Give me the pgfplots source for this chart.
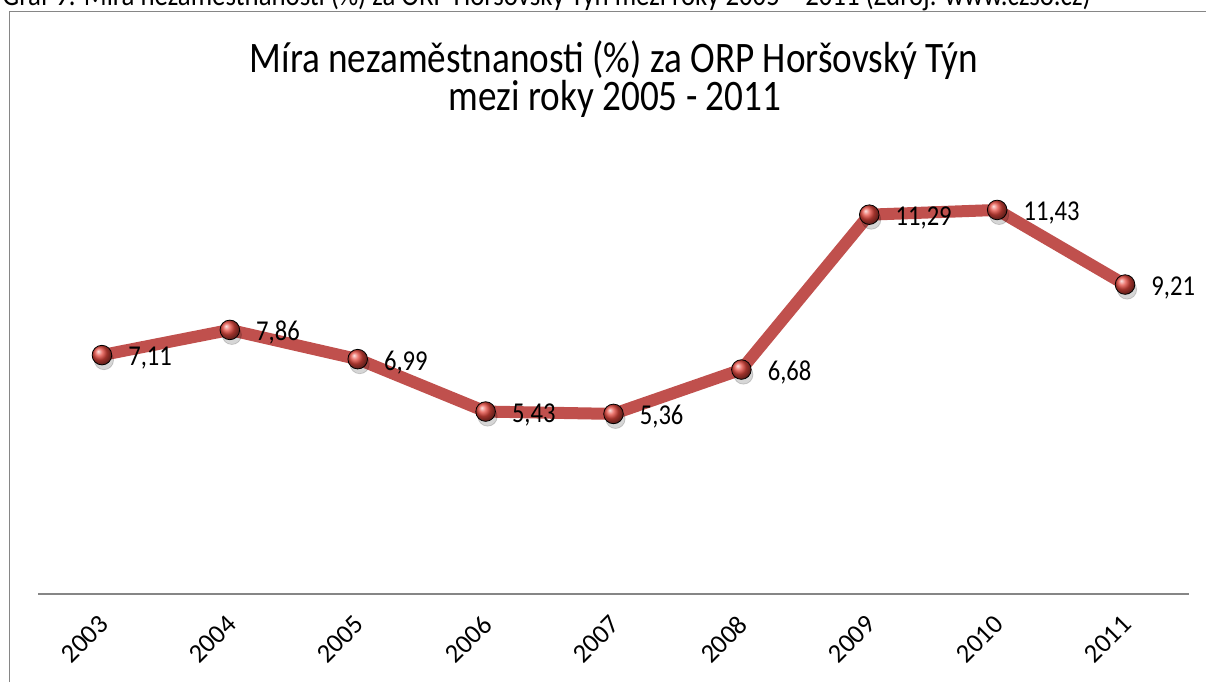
\documentclass[border=0pt]{standalone}
\usepackage{pgfplots}
\pgfplotsset{compat=1.18}
\usepackage{pgfplotstable}
\usepackage{fontspec}
\setmainfont{Carlito}
\definecolor{linered}{HTML}{C0504D}
\definecolor{framegray}{HTML}{868686}
\definecolor{ballred}{RGB}{228,72,62}
\pgfplotstableread{
x y label
0 7.11 7,11
1 7.86 7,86
2 6.99 6,99
3 5.43 5,43
4 5.36 5,36
5 6.68 6,68
6 11.29 11,29
7 11.43 11,43
8 9.21 9,21
}\datatable
\newcommand{\vs}[1]{\scalebox{1}[1.17]{#1}}
\begin{document}
\begin{tikzpicture}
\begin{scope}[x=0.5pt,y=0.5pt]
\useasboundingbox (0,0) rectangle (1206,682);
\clip (0,0) rectangle (1206,682);
% caption (cut off at top)
\node[anchor=base west, inner sep=0pt, font=\fontsize{13.4}{16}\selectfont] at (2,682-6)
  {\vs{Graf 9: Míra nezaměstnanosti (\%) za ORP Horšovský Týn mezi roky 2005 – 2011 (Zdroj: www.czso.cz)}};
% frame
\draw[framegray, line width=0.75pt] (9.5,0) -- (9.5,682-11.5) -- (1210,682-11.5);
% title
\node[anchor=base, inner sep=0pt, font=\fontsize{18.6}{22}\selectfont] at (614,682-72) {\vs{Míra nezaměstnanosti (\%) za ORP Horšovský Týn}};
\node[anchor=base, inner sep=0pt, font=\fontsize{18.6}{22}\selectfont] at (615,682-110) {\vs{mezi roky 2005 - 2011}};
\end{scope}
\begin{axis}[
  at={(19pt,44pt)}, anchor=south west,
  scale only axis, width=575.5pt, height=235.2pt,
  xmin=-0.5, xmax=8.5, ymin=0, ymax=14,
  axis x line*=bottom, axis y line=none,
  x axis line style={-, framegray, line width=0.75pt},
  xtick={0,...,8},
  xticklabels={2003,2004,2005,2006,2007,2008,2009,2010,2011},
  major tick length=0pt,
  xticklabel style={font=\fontsize{13.3}{16}\selectfont, xshift=1pt, yshift=-13pt, rotate=45, anchor=east, inner sep=0pt},
  clip=false,
]
\addplot[linered, line width=6pt, line join=round, mark=none] table[x=x,y=y] {\datatable};
\addplot[only marks, mark=*, mark size=4.8pt,
  mark options={fill=black, draw=none, opacity=0.16, xshift=1pt, yshift=-2.5pt}] table[x=x,y=y] {\datatable};
\addplot[only marks, mark=ball, mark size=4.9pt, ball color=ballred,
  point meta=explicit symbolic,
  nodes near coords={\vs{\pgfplotspointmeta}},
  nodes near coords style={anchor=west, inner sep=0pt, xshift=13pt, yshift=-1.5pt, font=\fontsize{12.3}{15}\selectfont, text=black},
  ] table[x=x,y=y,meta=label] {\datatable};
\end{axis}
\end{tikzpicture}
\end{document}
